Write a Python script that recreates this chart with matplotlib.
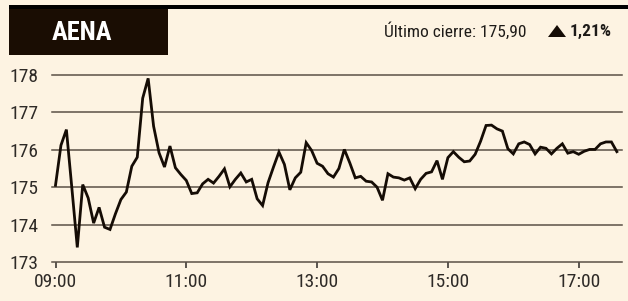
import matplotlib
matplotlib.use("Agg")
import matplotlib.pyplot as plt
from matplotlib.patches import Rectangle, Polygon

# precio de AENA cada 5 minutos desde las 09:00
minutes = list(range(0, 104 * 5, 5))
prices = [
    175.05, 176.12, 176.54, 174.98, 173.39, 175.07, 174.71, 174.04, 174.46, 173.93,
    173.87, 174.29, 174.67, 174.87, 175.56, 175.80, 177.38, 177.91, 176.63, 175.92,
    175.54, 176.10, 175.52, 175.34, 175.18, 174.83, 174.85, 175.09, 175.21, 175.11,
    175.29, 175.49, 175.01, 175.21, 175.38, 175.14, 175.21, 174.69, 174.51, 175.12,
    175.54, 175.94, 175.61, 174.93, 175.25, 175.40, 176.19, 175.98, 175.64, 175.56,
    175.36, 175.27, 175.50, 176.01, 175.65, 175.25, 175.29, 175.16, 175.14, 175.00,
    174.65, 175.36, 175.27, 175.25, 175.19, 175.25, 174.96, 175.21, 175.37, 175.41,
    175.71, 175.21, 175.79, 175.95, 175.80, 175.68, 175.70, 175.88, 176.23, 176.65,
    176.66, 176.56, 176.50, 176.03, 175.89, 176.16, 176.21, 176.14, 175.89, 176.07,
    176.04, 175.89, 176.04, 176.16, 175.91, 175.95, 175.88, 175.96, 176.01, 176.01,
    176.16, 176.21, 176.21, 175.95,
]
tick_pos = [0, 120, 240, 360, 480]
tick_labels = ["09:00", "11:00", "13:00", "15:00", "17:00"]
y_ticks = [173, 174, 175, 176, 177, 178]

title = "AENA"
close_text = "Último cierre: 175,90"
change_text = "1,21%"

bg = "#fdf3e2"
ink = "#150c05"
W, H = 628, 301

plt.rcParams['font.family'] = ['Roboto Condensed', 'Roboto', 'DejaVu Sans']

fig = plt.figure(figsize=(W / 100, H / 100), dpi=100, facecolor=bg)


def fx(x):
    return x / W


def fy(y):
    return 1 - y / H


ax = fig.add_axes([fx(52), fy(262), fx(622) - fx(52), fy(75) - fy(262)])
ax.set_facecolor(bg)
ax.plot(minutes, prices, color=ink, lw=2.0, solid_joinstyle='miter', clip_on=False, zorder=3)
ax.set_xlim((52 - 55.5) / 5.45 * 5, (622 - 55.5) / 5.45 * 5)
ax.set_ylim(173, 178)
ax.set_yticks(y_ticks)
ax.set_xticks(tick_pos)
ax.set_xticklabels(tick_labels)
ax.grid(axis='y', color='#5a5046', lw=1.1)
for gl in ax.get_ygridlines():
    gl.set_clip_on(False)
ax.grid(axis='x', visible=False)
for s in ax.spines.values():
    s.set_visible(False)
ax.tick_params(axis='y', length=0, pad=10, labelsize=14, labelcolor='#2e2a27')
ax.tick_params(axis='x', length=4.5, width=1.1, color='#2e2a27', direction='out',
               pad=3.5, labelsize=14, labelcolor='#2e2a27')

# cabecera
fig.patches.append(Rectangle((fx(9), fy(9)), 1 - fx(9), fy(5) - fy(9),
                             transform=fig.transFigure, color='#000000', lw=0))
fig.patches.append(Rectangle((fx(9), fy(55)), fx(168) - fx(9), fy(9) - fy(55),
                             transform=fig.transFigure, color='#1a0d03', lw=0))
fig.text(fx(82), fy(33), title, color='white', fontsize=19, fontweight='bold',
         ha='center', va='center')
fig.text(fx(527), fy(31), close_text, color='#1e1b18', fontsize=12.5,
         ha='right', va='center')
fig.patches.append(Polygon([(fx(548), fy(37)), (fx(566), fy(37)), (fx(557), fy(25))],
                           closed=True, transform=fig.transFigure, color=ink, lw=0))
fig.text(fx(570), fy(31), change_text, color='#1e1b18', fontsize=12.5, fontweight='bold',
         ha='left', va='center')

fig.savefig("out.png", dpi=100, facecolor=bg)
